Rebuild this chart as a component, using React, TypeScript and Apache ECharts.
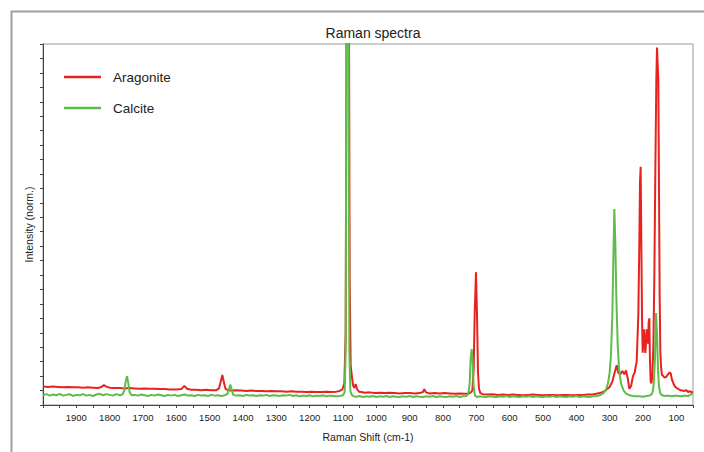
import React, { useEffect, useRef } from "react";
import * as echarts from "echarts";

const TITLE = "Raman spectra";
const X_NAME = "Raman Shift (cm-1)";
const Y_NAME = "Intensity (norm.)";
const SERIES_NAMES = ["Aragonite", "Calcite"];
const X_MIN = 50;
const X_MAX = 2000;
const X_TICK_STEP = 50;
const X_LABEL_STEP = 100;
const Y_MIN = 0;
const Y_MAX = 1;
const Y_TICK_STEP = 0.04;

// [Raman shift (cm-1), normalized intensity]
const aragonite: [number, number][] = [
  [2000, 0.051], [1985, 0.05], [1970, 0.051], [1955, 0.05], [1940, 0.049], [1925, 0.05],
  [1910, 0.049], [1895, 0.049], [1880, 0.048], [1865, 0.049], [1850, 0.048], [1835, 0.047],
  [1825, 0.05], [1817, 0.055], [1810, 0.051], [1800, 0.048], [1785, 0.047], [1770, 0.047],
  [1755, 0.046], [1740, 0.047], [1725, 0.046], [1710, 0.045], [1695, 0.046], [1680, 0.045],
  [1665, 0.045], [1650, 0.044], [1635, 0.044], [1620, 0.043], [1600, 0.043], [1585, 0.044],
  [1576, 0.053], [1568, 0.045], [1555, 0.042], [1540, 0.042], [1525, 0.041], [1510, 0.042],
  [1495, 0.041], [1480, 0.041], [1472, 0.046], [1466, 0.068], [1462, 0.083], [1458, 0.066],
  [1453, 0.046], [1446, 0.041], [1435, 0.04], [1420, 0.041], [1405, 0.04], [1390, 0.039],
  [1375, 0.04], [1360, 0.039], [1345, 0.039], [1330, 0.038], [1315, 0.039], [1300, 0.038],
  [1285, 0.038], [1270, 0.037], [1255, 0.038], [1240, 0.037], [1225, 0.037], [1210, 0.036],
  [1195, 0.037], [1180, 0.036], [1165, 0.036], [1150, 0.037], [1135, 0.036], [1120, 0.037],
  [1110, 0.039], [1102, 0.043], [1096, 0.06], [1092, 0.2], [1089, 1.2], [1086, 2.5],
  [1083, 1.4], [1080, 0.35], [1077, 0.11], [1074, 0.085], [1070, 0.055], [1066, 0.047],
  [1062, 0.058], [1058, 0.044], [1052, 0.037], [1045, 0.036], [1035, 0.034], [1020, 0.035],
  [1005, 0.033], [990, 0.034], [975, 0.033], [960, 0.034], [945, 0.033], [930, 0.032],
  [915, 0.033], [900, 0.033], [885, 0.032], [870, 0.033], [860, 0.036], [856, 0.044],
  [851, 0.035], [840, 0.032], [825, 0.033], [810, 0.032], [795, 0.033], [780, 0.032],
  [765, 0.031], [750, 0.032], [735, 0.031], [725, 0.032], [718, 0.034], [712, 0.04],
  [708, 0.1], [705, 0.25], [701, 0.368], [698, 0.25], [695, 0.09], [692, 0.045],
  [688, 0.033], [680, 0.03], [665, 0.029], [650, 0.03], [635, 0.028], [620, 0.029],
  [605, 0.028], [590, 0.029], [575, 0.028], [560, 0.027], [545, 0.028], [530, 0.029],
  [515, 0.028], [500, 0.027], [485, 0.028], [470, 0.028], [455, 0.027], [440, 0.028],
  [425, 0.028], [410, 0.027], [395, 0.028], [380, 0.028], [365, 0.029], [350, 0.029],
  [340, 0.031], [330, 0.033], [320, 0.036], [310, 0.042], [300, 0.05], [292, 0.065],
  [285, 0.09], [279, 0.11], [274, 0.089], [268, 0.085], [262, 0.094], [256, 0.085],
  [251, 0.096], [246, 0.075], [241, 0.045], [236, 0.052], [230, 0.08], [225, 0.09],
  [219, 0.12], [214, 0.25], [211, 0.45], [209, 0.62], [207, 0.66], [205, 0.45],
  [203, 0.25], [201, 0.145], [199, 0.17], [197, 0.21], [195, 0.17], [193, 0.144],
  [191, 0.17], [189, 0.21], [187, 0.18], [185, 0.17], [183, 0.23], [181, 0.24],
  [179, 0.12], [177, 0.065], [175, 0.06], [172, 0.08], [169, 0.16], [166, 0.35],
  [163, 0.65], [160, 0.9], [158, 0.99], [156, 0.99], [154, 0.9], [152, 0.6],
  [150, 0.3], [148, 0.15], [146, 0.106], [143, 0.083], [139, 0.08], [135, 0.076],
  [130, 0.078], [125, 0.085], [120, 0.09], [117, 0.088], [113, 0.07], [108, 0.058],
  [103, 0.05], [97, 0.046], [92, 0.043], [88, 0.041], [82, 0.04], [76, 0.039],
  [70, 0.041], [65, 0.036], [60, 0.038], [55, 0.036], [50, 0.035],
];

const calcite: [number, number][] = [
  [2000, 0.027], [1990, 0.03], [1980, 0.026], [1970, 0.029], [1960, 0.027], [1950, 0.031],
  [1940, 0.026], [1930, 0.028], [1920, 0.03], [1910, 0.025], [1900, 0.028], [1890, 0.027],
  [1880, 0.03], [1870, 0.026], [1860, 0.028], [1850, 0.025], [1840, 0.029], [1830, 0.031],
  [1820, 0.027], [1810, 0.03], [1800, 0.028], [1790, 0.026], [1780, 0.03], [1770, 0.027],
  [1762, 0.029], [1756, 0.04], [1752, 0.065], [1748, 0.08], [1744, 0.06], [1740, 0.035],
  [1734, 0.027], [1725, 0.028], [1715, 0.026], [1705, 0.029], [1695, 0.027], [1685, 0.025],
  [1675, 0.028], [1665, 0.026], [1655, 0.029], [1645, 0.027], [1635, 0.025], [1625, 0.028],
  [1615, 0.026], [1605, 0.028], [1595, 0.025], [1585, 0.027], [1575, 0.029], [1565, 0.026],
  [1555, 0.027], [1545, 0.025], [1535, 0.028], [1525, 0.026], [1515, 0.027], [1505, 0.025],
  [1495, 0.028], [1485, 0.026], [1475, 0.027], [1465, 0.025], [1455, 0.027], [1447, 0.03],
  [1442, 0.045], [1438, 0.057], [1434, 0.042], [1429, 0.028], [1420, 0.026], [1410, 0.027],
  [1400, 0.025], [1390, 0.028], [1380, 0.026], [1370, 0.027], [1360, 0.025], [1350, 0.027],
  [1340, 0.026], [1330, 0.028], [1320, 0.025], [1310, 0.027], [1300, 0.026], [1290, 0.025],
  [1280, 0.027], [1270, 0.026], [1260, 0.028], [1250, 0.025], [1240, 0.027], [1230, 0.024],
  [1220, 0.026], [1210, 0.025], [1200, 0.027], [1190, 0.024], [1180, 0.026], [1170, 0.025],
  [1160, 0.027], [1150, 0.024], [1140, 0.026], [1130, 0.025], [1120, 0.024], [1110, 0.025],
  [1100, 0.027], [1095, 0.035], [1092, 0.15], [1090, 0.9], [1088, 2.6], [1085, 2.6],
  [1083, 0.9], [1081, 0.15], [1078, 0.04], [1074, 0.028], [1068, 0.024], [1060, 0.023],
  [1050, 0.025], [1040, 0.022], [1030, 0.024], [1020, 0.023], [1010, 0.025], [1000, 0.022],
  [990, 0.024], [980, 0.023], [970, 0.025], [960, 0.022], [950, 0.024], [940, 0.023],
  [930, 0.022], [920, 0.024], [910, 0.023], [900, 0.025], [890, 0.022], [880, 0.024],
  [870, 0.023], [860, 0.022], [850, 0.024], [840, 0.023], [830, 0.025], [820, 0.022],
  [810, 0.024], [800, 0.023], [790, 0.022], [780, 0.024], [770, 0.023], [760, 0.025],
  [750, 0.022], [740, 0.024], [730, 0.025], [724, 0.03], [720, 0.06], [717, 0.13],
  [714, 0.155], [711, 0.12], [708, 0.05], [704, 0.026], [698, 0.022], [690, 0.024],
  [680, 0.023], [670, 0.022], [660, 0.024], [650, 0.023], [640, 0.022], [630, 0.024],
  [620, 0.023], [610, 0.025], [600, 0.022], [590, 0.024], [580, 0.023], [570, 0.022],
  [560, 0.024], [550, 0.023], [540, 0.025], [530, 0.022], [520, 0.024], [510, 0.023],
  [500, 0.022], [490, 0.024], [480, 0.023], [470, 0.025], [460, 0.022], [450, 0.024],
  [440, 0.023], [430, 0.022], [420, 0.024], [410, 0.023], [400, 0.025], [390, 0.022],
  [380, 0.024], [370, 0.023], [360, 0.022], [350, 0.024], [340, 0.024], [330, 0.027],
  [320, 0.032], [312, 0.04], [305, 0.06], [300, 0.09], [296, 0.14], [292, 0.25],
  [289, 0.4], [286, 0.543], [283, 0.45], [280, 0.3], [276, 0.17], [272, 0.1],
  [266, 0.06], [258, 0.04], [250, 0.031], [240, 0.027], [230, 0.025], [220, 0.024],
  [210, 0.024], [200, 0.023], [190, 0.025], [180, 0.026], [174, 0.03], [170, 0.04],
  [167, 0.07], [164, 0.13], [161, 0.255], [158, 0.2], [155, 0.1], [152, 0.05],
  [148, 0.032], [143, 0.027], [135, 0.025], [125, 0.026], [115, 0.024], [105, 0.026],
  [95, 0.025], [85, 0.024], [75, 0.026], [65, 0.025], [58, 0.028], [53, 0.032], [50, 0.03],
];

const COLORS = ["#e8231f", "#5ebd4a"];

export default function App() {
  const ref = useRef<HTMLDivElement>(null);
  useEffect(() => {
    if (!ref.current) return;
    const chart = echarts.init(ref.current, undefined, { renderer: "svg" });
    const font = "'Liberation Sans', Arial, Helvetica, sans-serif";
    chart.setOption({
      animation: false,
      backgroundColor: "#ffffff",
      textStyle: { fontFamily: font },
      title: {
        text: TITLE,
        left: 368,
        top: 21,
        textAlign: "center",
        textStyle: { fontSize: 14, fontWeight: "normal", color: "#222", fontFamily: font },
      },
      graphic: [
        {
          type: "rect",
          left: 9,
          top: 9,
          shape: { width: 760, height: 500 },
          style: { fill: "none", stroke: "#a0a0a0", lineWidth: 2 },
          silent: true,
        },
      ],
      legend: {
        orient: "vertical",
        left: 59,
        top: 64,
        icon: "rect",
        itemWidth: 37,
        itemHeight: 2.5,
        itemGap: 15,
        data: SERIES_NAMES,
        textStyle: {
          fontSize: 13.5,
          lineHeight: 16,
          color: "#222",
          fontFamily: font,
          padding: [0, 0, 0, 7],
        },
      },
      grid: {
        left: 43,
        right: 11,
        top: 44,
        bottom: 47,
        show: true,
        borderColor: "#999",
        borderWidth: 1,
        containLabel: false,
      },
      xAxis: {
        type: "value",
        inverse: true,
        min: X_MIN,
        max: X_MAX,
        interval: X_TICK_STEP,
        name: X_NAME,
        nameLocation: "middle",
        nameGap: 26,
        nameTextStyle: { fontSize: 10.5, color: "#222", fontFamily: font },
        axisLine: { show: true, lineStyle: { color: "#444", width: 1 } },
        axisTick: { show: true, length: 3, lineStyle: { color: "#444" } },
        splitLine: { show: false },
        axisLabel: {
          fontSize: 9.5,
          color: "#222",
          margin: 7,
          fontFamily: font,
          formatter: (v: number) =>
            v % X_LABEL_STEP === 0 && v !== X_MAX ? String(v) : "",
        },
      },
      yAxis: {
        type: "value",
        min: Y_MIN,
        max: Y_MAX,
        interval: Y_TICK_STEP,
        name: Y_NAME,
        nameLocation: "middle",
        nameGap: 9,
        nameTextStyle: { fontSize: 10.5, color: "#222", fontFamily: font },
        axisLine: { show: true, lineStyle: { color: "#444", width: 1 } },
        axisTick: { show: true, length: 3, lineStyle: { color: "#444" } },
        axisLabel: { show: false },
        splitLine: { show: false },
      },
      series: [
        {
          name: SERIES_NAMES[0],
          type: "line",
          data: aragonite,
          symbol: "none",
          clip: true,
          color: COLORS[0],
          lineStyle: { width: 2, color: COLORS[0] },
        },
        {
          name: SERIES_NAMES[1],
          type: "line",
          data: calcite,
          symbol: "none",
          clip: true,
          color: COLORS[1],
          lineStyle: { width: 2, color: COLORS[1] },
        },
      ],
    });
    return () => chart.dispose();
  }, []);
  return (
    <div
      ref={ref}
      style={{ position: "absolute", left: 0, top: 0, width: 704, height: 452 }}
    />
  );
}
